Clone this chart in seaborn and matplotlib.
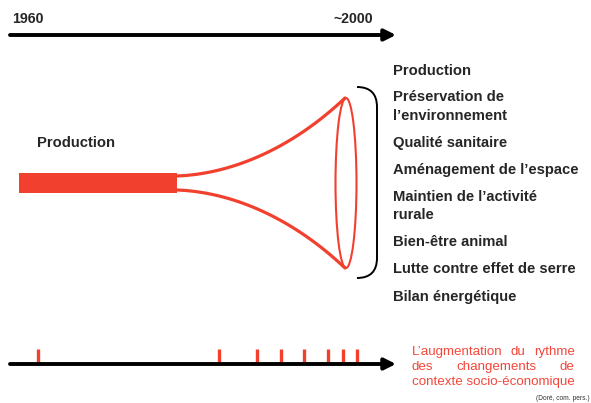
import numpy as np
import pandas as pd
import matplotlib
matplotlib.use('Agg')
import matplotlib.pyplot as plt
from matplotlib.patches import Ellipse, PathPatch
from matplotlib.path import Path
import seaborn as sns

# data (diagram coordinates, pixel-like units)
timeline_labels = ['1960', '~2000']
label_x = [12, 333]
left_label = 'Production'
right_lines = ['Production', 'Préservation de', 'l\u2019environnement', 'Qualité sanitaire',
               'Aménagement de l\u2019espace', 'Maintien de l\u2019activité', 'rurale',
               'Bien-être animal', 'Lutte contre effet de serre', 'Bilan énergétique']
right_y = [71, 97, 116, 143, 170, 197, 215, 242, 269, 297]
change_x = [38, 219, 257, 281, 304, 328, 343, 357]
red_lines = [['L\u2019augmentation', 'du', 'rythme'],
             ['des', 'changements', 'de'],
             ['contexte socio-économique']]
red_y = [355, 370, 385]
source = '(Doré, com. pers.)'

# funnel geometry
bar = dict(left=19, right=177, top=173, bottom=193)
top_curve = [(177, 176), (230, 174), (290, 150), (345, 98)]
bot_curve = [(177, 190), (230, 192), (290, 216), (345, 268)]
mouth = dict(x=346, y=183, w=21, h=170)

RED = '#f2402f'
sns.set_theme(style='white')
plt.rcParams['font.family'] = ['Liberation Sans', 'DejaVu Sans']

fig = plt.figure(figsize=(5.91, 4.03), dpi=100)
ax = fig.add_axes([0, 0, 1, 1])

# top timeline
ax.annotate('', xy=(396, 35), xytext=(10, 35),
            arrowprops=dict(arrowstyle='-|>', lw=2.8, color='black', mutation_scale=17,
                            shrinkA=0, shrinkB=0))
for lab, x in zip(timeline_labels, label_x):
    ax.text(x, 19, lab, fontsize=10.2, fontweight='bold', va='center', ha='left')

# bar + funnel
ax.barh(y=(bar['top'] + bar['bottom']) / 2, width=bar['right'] - bar['left'],
        left=bar['left'], height=bar['bottom'] - bar['top'], color=RED, linewidth=0)

def bezier(pts, n=60):
    t = np.linspace(0, 1, n)[:, None]
    p = np.array(pts, dtype=float)
    return ((1 - t) ** 3 * p[0] + 3 * (1 - t) ** 2 * t * p[1]
            + 3 * (1 - t) * t ** 2 * p[2] + t ** 3 * p[3])

for curve in [top_curve, bot_curve]:
    c = bezier(curve)
    df = pd.DataFrame({'x': c[:, 0], 'y': c[:, 1]})
    sns.lineplot(data=df, x='x', y='y', sort=False, estimator=None,
                 color=RED, lw=2.3, ax=ax)
ax.add_patch(Ellipse((mouth['x'], mouth['y']), mouth['w'], mouth['h'],
                     fill=False, edgecolor=RED, lw=1.5))
ax.set_xlim(0, 591)
ax.set_ylim(403, 0)
ax.axis('off')

# bracket
verts = [(357, 87), (377, 87), (377, 107), (377, 258), (377, 278), (357, 278)]
codes = [Path.MOVETO, Path.CURVE3, Path.CURVE3, Path.LINETO, Path.CURVE3, Path.CURVE3]
ax.add_patch(PathPatch(Path(verts, codes), fill=False, edgecolor='black', lw=1.4))

ax.text(37, 143, left_label, fontsize=10.6, fontweight='bold', va='center', ha='left')
for item, y in zip(right_lines, right_y):
    ax.text(393, y, item, fontsize=10.6, fontweight='bold', va='center', ha='left')

# bottom timeline
ax.annotate('', xy=(396, 364), xytext=(10, 364),
            arrowprops=dict(arrowstyle='-|>', lw=2.8, color='black', mutation_scale=17,
                            shrinkA=0, shrinkB=0))
ax.vlines(change_x, 349, 363, color=RED, lw=2.4)

# justified red text
renderer = fig.canvas.get_renderer()
def word_widths(words):
    ws = []
    for w in words:
        t = ax.text(0, 0, w, fontsize=9.6)
        ws.append(t.get_window_extent(renderer).width)
        t.remove()
    return ws

x0 = 412
full_w = word_widths(red_lines[-1])[0]
for words, y in zip(red_lines, red_y):
    ws = word_widths(words)
    gap = (full_w - sum(ws)) / (len(words) - 1) if len(words) > 1 else 0
    x = x0
    for w, wd in zip(words, ws):
        ax.text(x, y, w, fontsize=9.6, color='#f5473a', va='baseline', ha='left')
        x += wd + gap

ax.text(590, 398, source, fontsize=4.8, color='#333333', va='center', ha='right')

fig.savefig('out.png', dpi=100, facecolor='white')
